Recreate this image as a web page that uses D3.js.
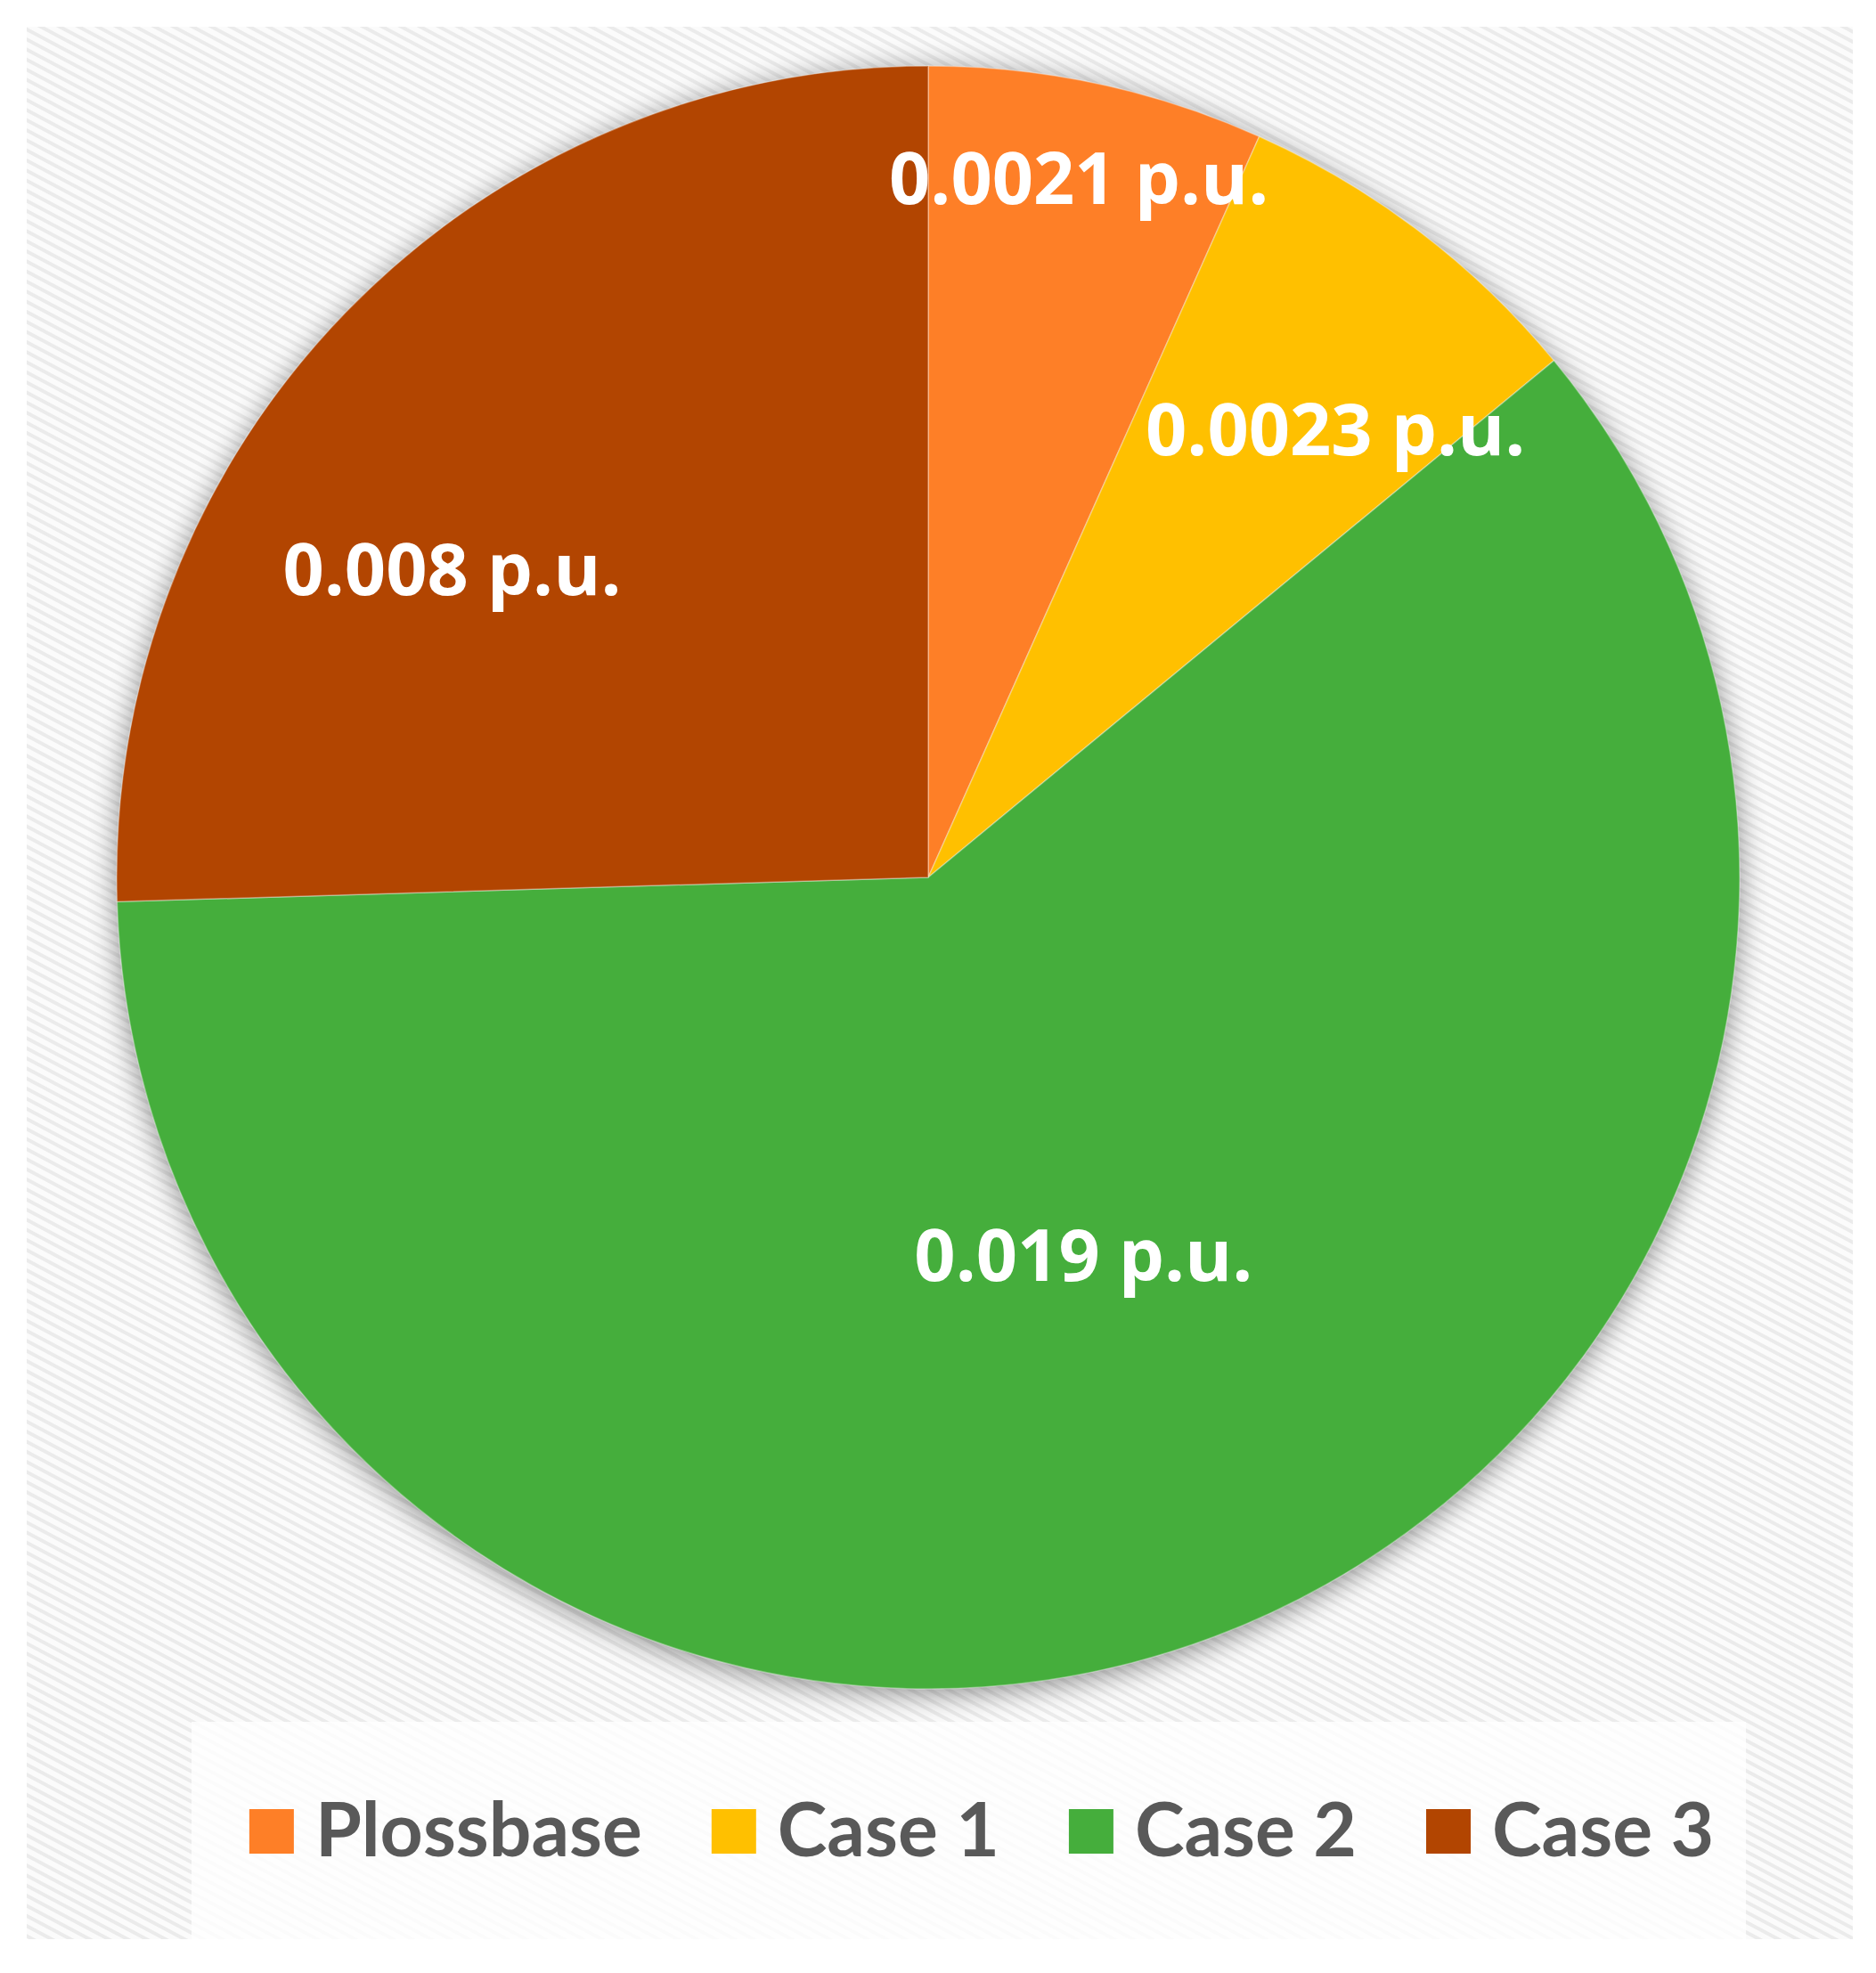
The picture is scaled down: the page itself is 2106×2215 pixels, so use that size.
<!DOCTYPE html>
<html>
<head>
<meta charset="utf-8">
<script src="https://cdn.jsdelivr.net/npm/d3@7"></script>
<style>
  body { margin: 0; background: #fff; }
  svg { display: block; }
</style>
</head>
<body>
<script>
var categories = ["Plossbase", "Case 1", "Case 2", "Case 3"];
var values = [0.0021, 0.0023, 0.019, 0.008];
var labels = ["0.0021 p.u.", "0.0023 p.u.", "0.019 p.u.", "0.008 p.u."];
var colors = ["#fe7f27", "#ffc000", "#45ae3c", "#b24501"];

// where excel pushed each data label: fraction of radius, angle nudge in degrees
var labelPlace = [[0.876, 0.2], [0.742, 5.3], [0.508, -1.5], [0.696, -11.6]];

var W = 2106, H = 2215;
var area = {x: 30, y: 30, w: 2050, h: 2147};
var cx = 1042, cy = 985, radius = 911;

var svg = d3.select("body").append("svg")
    .attr("width", W)
    .attr("height", H);

var defs = svg.append("defs");

// soft diagonal stripes of the chart area
var pat = defs.append("pattern")
    .attr("id", "stripes")
    .attr("patternUnits", "userSpaceOnUse")
    .attr("width", 10)
    .attr("height", 10)
    .attr("patternTransform", "rotate(28)");
pat.append("rect").attr("width", 10).attr("height", 10).attr("fill", "#fbfbfb");
pat.append("rect").attr("y", 3).attr("width", 10).attr("height", 4).attr("fill", "#ebebeb");

var shadow = defs.append("filter")
    .attr("id", "shadow")
    .attr("x", "-10%").attr("y", "-10%")
    .attr("width", "120%").attr("height", "120%");
shadow.append("feGaussianBlur").attr("in", "SourceAlpha").attr("stdDeviation", 16).attr("result", "b");
shadow.append("feOffset").attr("in", "b").attr("dy", 5).attr("result", "o");
shadow.append("feComponentTransfer").attr("in", "o")
  .append("feFuncA").attr("type", "linear").attr("slope", 0.45);

svg.append("rect")
    .attr("x", area.x).attr("y", area.y)
    .attr("width", area.w).attr("height", area.h)
    .attr("fill", "url(#stripes)");

// legend box is a lighter patch
svg.append("rect")
    .attr("x", 215).attr("y", 1933)
    .attr("width", 1745).attr("height", 244)
    .attr("fill", "#fff")
    .attr("opacity", 0.8);

var g = svg.append("g")
    .attr("transform", "translate(" + cx + "," + cy + ")");

g.append("circle")
    .attr("r", radius)
    .attr("fill", "#000")
    .attr("filter", "url(#shadow)");

var pie = d3.pie().sort(null);
var arcs = pie(values);
var arc = d3.arc().innerRadius(0).outerRadius(radius);

g.selectAll("path.slice")
    .data(arcs)
  .enter().append("path")
    .attr("class", "slice")
    .attr("d", arc)
    .attr("fill", function(d, i) { return colors[i]; })
    .attr("stroke", "#fff")
    .attr("stroke-opacity", 0.35)
    .attr("stroke-width", 1.5);

g.selectAll("text.lbl")
    .data(arcs)
  .enter().append("text")
    .attr("class", "lbl")
    .attr("x", function(d, i) {
      var a = (d.startAngle + d.endAngle) / 2 + labelPlace[i][1] * Math.PI / 180;
      return Math.sin(a) * radius * labelPlace[i][0];
    })
    .attr("y", function(d, i) {
      var a = (d.startAngle + d.endAngle) / 2 + labelPlace[i][1] * Math.PI / 180;
      return -Math.cos(a) * radius * labelPlace[i][0];
    })
    .attr("dy", "0.3em")
    .attr("text-anchor", "middle")
    .style("font-family", "'Open Sans', 'Noto Sans', sans-serif")
    .style("font-weight", 700)
    .style("font-size", "81px")
    .style("fill", "#fff")
    .text(function(d, i) { return labels[i]; });

// legend
var legend = svg.append("g").attr("class", "legend");
var items = legend.selectAll("g.item")
    .data(categories)
  .enter().append("g")
    .attr("class", "item");

items.append("rect")
    .attr("y", 2031)
    .attr("width", 50)
    .attr("height", 50)
    .attr("fill", function(d, i) { return colors[i]; });

items.append("text")
    .attr("x", 74)
    .attr("y", 2084)
    .style("font-family", "Lato, 'Open Sans', sans-serif")
    .style("font-weight", 700)
    .style("font-size", "84px")
    .style("fill", "#595959")
    .text(function(d) { return d; });

var widths = [];
items.select("text").each(function() { widths.push(74 + this.getComputedTextLength()); });
var gap = 78;
var total = d3.sum(widths) + gap * (widths.length - 1);
var xpos = 1102 - total / 2;
items.attr("transform", function(d, i) {
  var t = "translate(" + xpos + ",0)";
  xpos += widths[i] + gap;
  return t;
});
</script>
</body>
</html>
